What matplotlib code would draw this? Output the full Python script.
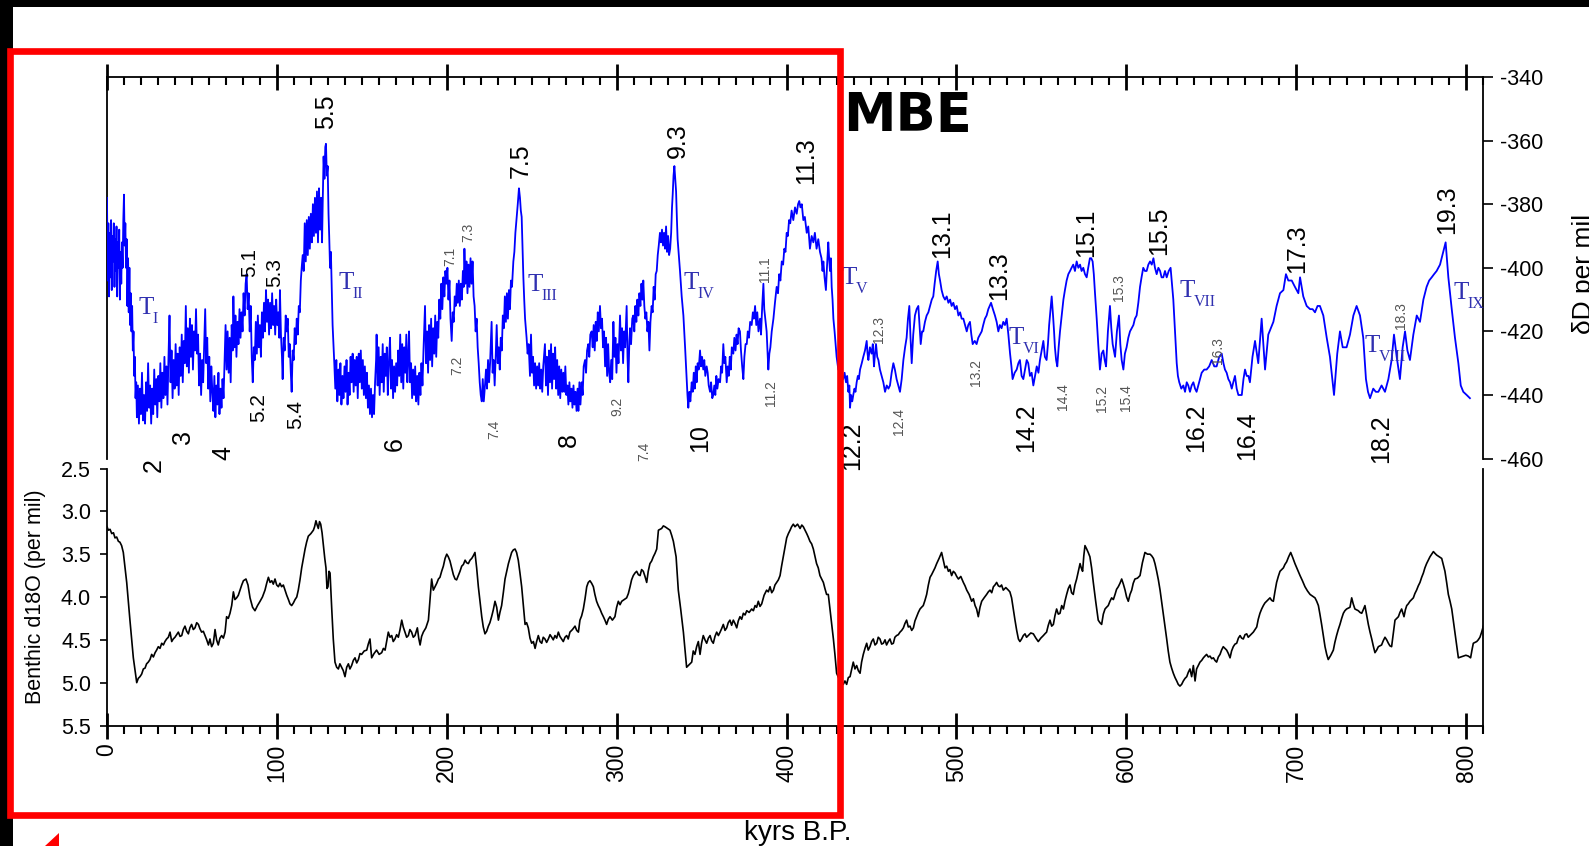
import matplotlib
matplotlib.use("Agg")
import matplotlib.pyplot as plt
from matplotlib.patches import Rectangle, Polygon
from matplotlib.ticker import MultipleLocator, FixedLocator, FormatStrFormatter

plt.rcParams['font.family'] = ['Liberation Sans', 'DejaVu Sans']
plt.rcParams['axes.unicode_minus'] = False

# ---------------------------------------------------------------
# EPICA Dome C deuterium (age in kyr B.P., dD in per mil)
# ---------------------------------------------------------------
dd_mis1_5 = [
    (0.0, -378), (0.4, -404), (0.8, -386), (1.2, -409), (1.6, -389), (2.0, -403), (2.4, -385), (2.8, -407),
    (3.2, -390), (3.6, -398), (4.0, -386), (4.4, -406), (4.8, -391), (5.2, -401), (5.6, -387), (6.0, -409),
    (6.4, -392), (6.8, -400), (7.2, -388), (7.6, -410), (8.0, -395), (8.4, -405), (8.8, -392), (9.2, -400),
    (9.6, -385), (10.0, -377), (10.4, -393), (10.8, -386), (11.2, -400), (11.6, -391), (12.0, -412), (12.4, -397),
    (12.8, -414), (13.2, -400), (13.6, -418), (14.0, -408), (14.4, -420), (14.8, -412), (15.2, -426), (15.6, -420),
    (16.0, -434), (16.4, -428), (16.8, -441), (17.2, -436), (17.6, -447), (18.2, -437), (18.8, -449), (19.4, -438),
    (20.0, -446), (20.6, -433), (21.2, -448), (21.8, -440), (22.4, -449), (23.0, -436), (23.6, -445), (24.2, -430),
    (24.8, -444), (25.4, -437), (26.0, -449), (26.6, -438), (27.2, -446), (27.8, -432), (28.4, -443), (29.0, -435),
    (29.6, -447), (30.2, -434), (30.8, -442), (31.4, -430), (32.0, -444), (32.6, -433), (33.2, -441), (33.8, -428),
    (34.4, -440), (35.0, -431), (35.6, -443), (36.2, -428), (36.8, -415), (37.4, -436), (38.0, -426), (38.6, -441),
    (39.2, -429), (39.8, -438), (40.4, -424), (41.0, -437), (41.6, -427), (42.2, -440), (42.8, -425), (43.4, -434),
    (44.0, -421), (44.6, -436), (45.2, -423), (45.8, -430), (46.4, -412), (47.0, -431), (47.6, -419), (48.2, -433),
    (48.8, -416), (49.4, -428), (50.0, -418), (50.6, -432), (51.2, -420), (51.8, -426), (52.4, -413), (53.0, -427),
    (53.6, -421), (54.2, -437), (54.8, -427), (55.4, -440), (56.0, -429), (56.6, -436), (57.2, -424), (57.8, -413),
    (58.4, -430), (59.0, -422), (59.6, -438), (60.2, -428), (60.8, -442), (61.4, -431), (62.0, -439), (62.6, -445),
    (63.2, -434), (63.8, -447), (64.4, -437), (65.0, -443), (65.6, -433), (66.2, -446), (66.8, -438), (67.4, -444),
    (68.0, -435), (68.6, -441), (69.2, -430), (69.8, -418), (70.4, -432), (71.0, -420), (71.6, -433), (72.2, -422),
    (72.8, -436), (73.4, -418), (74.0, -426), (74.4, -409), (75.0, -425), (75.6, -415), (76.2, -428), (76.8, -417),
    (77.4, -424), (78.0, -413), (78.6, -422), (79.2, -414), (79.8, -420), (80.4, -408), (81.0, -415), (81.6, -405),
    (82.2, -402), (82.8, -413), (83.4, -408), (84.0, -420), (84.6, -412), (85.2, -428), (85.8, -436), (86.4, -425),
    (87.0, -429), (87.6, -417), (88.2, -427), (88.8, -415), (89.4, -425), (90.0, -418), (90.6, -428), (91.2, -414),
    (91.8, -422), (92.4, -411), (93.0, -420), (93.6, -407), (94.2, -417), (94.8, -410), (95.4, -421), (96.0, -411),
    (96.6, -419), (97.2, -408), (97.8, -418), (98.4, -412), (99.0, -421), (99.6, -410), (100.2, -418), (100.8, -414),
    (101.4, -422), (101.8, -407), (102.4, -421), (103.0, -428), (103.4, -435), (104.0, -422), (104.6, -426), (105.2, -415),
    (105.8, -420), (106.4, -416), (107.0, -428), (107.6, -424), (108.2, -433), (108.7, -439), (109.3, -426), (109.9, -429),
    (110.5, -419), (111.1, -424), (111.7, -416), (112.3, -421), (112.9, -412), (113.5, -414), (114.1, -404), (114.6, -400),
    (115.2, -396), (115.8, -401), (116.4, -386), (117.0, -398), (117.6, -385), (118.2, -396), (118.8, -384), (119.4, -394),
    (120.0, -383), (120.6, -392), (121.2, -380), (121.8, -390), (122.4, -378), (123.0, -389), (123.6, -376), (124.2, -392),
    (124.8, -375), (125.4, -388), (126.0, -378), (126.6, -392), (127.0, -379), (127.5, -365), (128.0, -372), (128.5, -362),
    (128.9, -361), (129.4, -371), (129.9, -368), (130.4, -383), (130.8, -390), (131.3, -400), (131.8, -395), (132.3, -407),
    (132.8, -418), (133.3, -424),
]

dd_mis6_7 = [
    (133.8, -430), (134.4, -438), (135.0, -429), (135.6, -442), (136.2, -432), (136.8, -440), (137.4, -430), (138.0, -443),
    (138.6, -434), (139.2, -441), (139.8, -431), (140.4, -439), (141.0, -429), (141.6, -443), (142.2, -433), (142.8, -440),
    (143.4, -428), (144.0, -436), (144.6, -427), (145.2, -439), (145.8, -429), (146.4, -437), (147.0, -428), (147.6, -441),
    (148.2, -427), (148.8, -436), (149.4, -426), (150.0, -438), (150.6, -429), (151.2, -440), (151.8, -431), (152.4, -441),
    (153.0, -433), (153.6, -444), (154.2, -437), (154.8, -446), (155.4, -438), (156.0, -447), (156.6, -440), (157.2, -446),
    (157.8, -436), (158.4, -429), (158.7, -421), (159.3, -437), (159.9, -425), (160.5, -440), (161.1, -428), (161.7, -436),
    (162.3, -424), (162.9, -439), (163.5, -427), (164.1, -434), (164.7, -425), (165.3, -440), (165.9, -430), (166.6, -422),
    (167.2, -438), (167.8, -429), (168.4, -441), (169.0, -431), (169.6, -439), (170.2, -430), (170.8, -437), (171.4, -426),
    (172.0, -434), (172.6, -421), (173.2, -436), (173.8, -424), (174.4, -438), (175.0, -425), (175.6, -433), (176.2, -421),
    (176.8, -436), (177.4, -427), (177.8, -420), (178.4, -436), (179.0, -430), (179.6, -441), (180.2, -432), (180.8, -440),
    (181.4, -431), (182.0, -442), (182.6, -434), (183.3, -443), (183.9, -433), (184.5, -440), (185.1, -430), (185.7, -437),
    (186.3, -426), (187.2, -412), (187.8, -430), (188.4, -420), (189.0, -433), (189.6, -418), (190.2, -429), (190.8, -416),
    (191.4, -431), (192.0, -419), (192.6, -427), (193.2, -415), (193.8, -428), (194.4, -417), (195.0, -422), (195.6, -410),
    (196.2, -416), (196.8, -405), (197.4, -413), (198.0, -403), (198.6, -409), (199.2, -401), (199.8, -405), (200.4, -400),
    (201.0, -410), (201.6, -404), (202.2, -416), (202.9, -423), (203.5, -414), (204.1, -417), (204.7, -409), (205.3, -412),
    (205.9, -405), (206.5, -411), (207.1, -404), (207.7, -412), (208.3, -405), (208.9, -410), (209.5, -401), (210.0, -406),
    (210.4, -394), (211.0, -405), (211.6, -398), (212.2, -408), (212.8, -399), (213.4, -406), (214.0, -397), (214.6, -405),
    (215.2, -398), (215.8, -409), (216.4, -412), (217.0, -420), (217.6, -416), (218.2, -425), (218.8, -430), (219.4, -436),
    (220.0, -440), (220.6, -442), (221.2, -435), (221.8, -442), (222.5, -437), (223.1, -432), (223.7, -438), (224.3, -429),
    (224.9, -436), (225.5, -430), (226.0, -423), (226.4, -417), (227.0, -433), (227.6, -429), (228.2, -437), (228.8, -428),
    (229.4, -418), (230.0, -430), (230.6, -425), (231.2, -432), (231.8, -422), (232.4, -426), (233.0, -415), (233.6, -419),
    (234.2, -409), (234.8, -417), (235.4, -408), (236.0, -416), (236.6, -407), (237.2, -413), (237.8, -404), (238.4, -406),
    (239.2, -398), (239.8, -395), (240.4, -389), (241.2, -384), (241.8, -380), (242.5, -375), (243.1, -378), (243.6, -382),
    (244.1, -384), (244.6, -394), (245.1, -403), (245.6, -410), (246.1, -416), (247.0, -422), (247.6, -427), (248.2, -424),
    (249.0, -434), (249.6, -421), (250.2, -433), (250.8, -428), (251.4, -437), (252.0, -430), (252.6, -438), (253.2, -431),
    (253.8, -437), (254.4, -430), (255.0, -438), (255.6, -432), (256.2, -439), (256.8, -431), (257.8, -424), (258.4, -437),
    (259.0, -428), (259.6, -440), (260.2, -426), (260.8, -436), (261.4, -424), (262.0, -438), (262.6, -427), (263.2, -435),
    (263.8, -425), (264.4, -438), (265.0, -429), (265.6, -440), (266.2, -431), (266.8, -441), (267.4, -432), (268.0, -439),
]

dd_mis8_11 = [
    (268.6, -433), (269.2, -439), (269.8, -431), (270.4, -440), (271.0, -437), (271.6, -443), (272.2, -436), (272.8, -442),
    (273.4, -438), (274.0, -444), (274.6, -437), (275.2, -443), (275.8, -439), (276.4, -445), (277.0, -438), (277.5, -445),
    (278.1, -436), (278.7, -443), (279.4, -436), (280.0, -440), (280.6, -431), (281.4, -429), (282.0, -433), (282.6, -426),
    (283.3, -424), (283.9, -428), (284.5, -421), (285.3, -420), (285.9, -425), (286.5, -418), (287.1, -426), (287.7, -417),
    (288.3, -423), (288.9, -414), (289.5, -420), (290.2, -412), (290.8, -419), (291.4, -416), (292.0, -425), (292.6, -420),
    (293.2, -431), (293.8, -422), (294.4, -434), (295.0, -424), (295.6, -433), (296.2, -436), (296.8, -429), (297.4, -435),
    (298.1, -417), (298.7, -428), (299.3, -422), (299.9, -433), (300.5, -424), (301.1, -430), (302.0, -415), (302.6, -426),
    (303.2, -419), (303.8, -430), (304.4, -420), (305.0, -425), (305.9, -412), (306.4, -428), (306.9, -436), (307.5, -423),
    (307.9, -419), (308.5, -424), (309.2, -416), (309.8, -415), (310.4, -420), (311.0, -412), (311.6, -417), (312.2, -410),
    (312.8, -415), (313.4, -408), (314.0, -412), (314.6, -405), (315.2, -410), (315.7, -404), (316.3, -412), (316.9, -416),
    (317.5, -414), (318.1, -420), (318.7, -417), (319.3, -426), (319.9, -417), (320.6, -412), (321.2, -414), (321.8, -406),
    (322.4, -410), (323.0, -402), (323.6, -401), (324.2, -396), (324.8, -393), (325.5, -389), (326.1, -392), (326.7, -388),
    (327.3, -393), (327.9, -389), (328.5, -394), (329.1, -387), (329.7, -395), (330.3, -390), (330.9, -396), (331.5, -394),
    (332.1, -389), (332.6, -381), (333.0, -377), (333.5, -371), (334.0, -368), (334.5, -372), (335.0, -376), (335.5, -385),
    (335.9, -391), (336.6, -396), (337.3, -401), (338.3, -409), (339.3, -415), (340.3, -425), (341.2, -435), (341.7, -440),
    (342.2, -444), (342.8, -439), (343.4, -442), (344.2, -436), (344.8, -439), (345.4, -433), (346.0, -438), (346.6, -431),
    (347.1, -436), (347.7, -430), (348.3, -432), (349.1, -426), (349.7, -431), (350.3, -428), (351.0, -432), (351.6, -429),
    (352.2, -434), (353.0, -431), (353.6, -433), (354.2, -437), (355.0, -439), (355.6, -436), (356.3, -441), (356.9, -440),
    (357.5, -437), (358.1, -440), (358.7, -434), (359.3, -438), (360.0, -435), (360.9, -436), (361.5, -431), (362.1, -433),
    (362.8, -424), (363.4, -430), (364.0, -428), (364.8, -436), (365.4, -431), (366.0, -434), (366.6, -428), (367.2, -432),
    (367.8, -425), (368.7, -427), (369.3, -422), (370.0, -426), (370.6, -421), (371.2, -424), (371.8, -419), (372.6, -420),
    (373.2, -426), (373.9, -431), (374.6, -435), (375.2, -428), (375.9, -424), (376.6, -424), (377.2, -420), (377.9, -422),
    (378.6, -417), (379.5, -418), (380.2, -414), (380.8, -416), (381.5, -412), (382.2, -418), (382.8, -414), (383.5, -420),
    (384.4, -416), (385.0, -421), (385.7, -412), (386.4, -405), (386.9, -413), (387.5, -416), (388.3, -420), (388.8, -426),
    (389.3, -432), (389.9, -427), (390.5, -425), (391.3, -420), (392.3, -416), (393.2, -411), (394.2, -406), (395.0, -408),
    (395.7, -402), (396.4, -404), (397.2, -398), (398.0, -399), (398.7, -394), (399.4, -395), (400.1, -389), (400.8, -390),
    (401.5, -385), (402.2, -386), (403.0, -382), (404.0, -385), (405.0, -381), (406.0, -383), (406.8, -380), (407.5, -379),
    (408.2, -381), (409.0, -380), (409.9, -385), (410.8, -384), (411.9, -389), (412.8, -387), (413.8, -394), (414.8, -390),
    (415.8, -392), (416.7, -389), (417.7, -394), (418.7, -391), (419.7, -395), (420.6, -397), (421.2, -401), (421.7, -398),
    (422.4, -403), (423.2, -407), (423.8, -400), (424.6, -392), (425.1, -397), (425.6, -401), (426.1, -397), (426.6, -406),
    (427.1, -410), (427.6, -416), (428.3, -420), (428.9, -424), (429.5, -428),
]

dd_mis12_15 = [
    (430.5, -432), (431.5, -431), (432.4, -434), (433.4, -435), (434.2, -433), (435.0, -436), (435.7, -434), (436.4, -439),
    (437.0, -437), (437.4, -444), (438.0, -440), (438.7, -442), (439.3, -440), (440.0, -438), (440.6, -439), (441.3, -436),
    (442.0, -434), (442.6, -435), (443.3, -432), (444.3, -430), (445.2, -428), (446.2, -426), (447.2, -423), (447.7, -427),
    (448.2, -429), (449.1, -425), (450.1, -427), (450.8, -424), (451.5, -431), (452.1, -427), (452.7, -424), (453.4, -428),
    (454.1, -429), (455.0, -432), (456.0, -434), (457.0, -436), (458.0, -439), (459.0, -437), (460.0, -438), (460.9, -437),
    (461.9, -433), (462.9, -430), (463.8, -432), (464.8, -435), (465.8, -437), (466.8, -439), (467.8, -435), (468.8, -429),
    (469.8, -425), (470.7, -422), (471.5, -416), (472.3, -412), (473.0, -422), (473.7, -430), (474.6, -421), (475.6, -415),
    (476.6, -413), (477.6, -412), (478.3, -418), (479.0, -424), (479.8, -420), (480.5, -420), (481.5, -417), (482.5, -415),
    (483.5, -414), (484.5, -412), (485.5, -410), (486.4, -409), (487.2, -405), (488.1, -401), (489.0, -398), (489.7, -402),
    (490.4, -404), (491.3, -407), (492.3, -409), (493.3, -410), (494.3, -409), (495.3, -411), (496.3, -410), (497.2, -412),
    (498.2, -411), (499.2, -413), (500.2, -412), (501.2, -415), (502.2, -414), (503.1, -416), (504.1, -416), (505.1, -418),
    (506.1, -420), (507.0, -418), (508.0, -417), (508.8, -421), (509.6, -424), (510.8, -423), (511.9, -424), (512.9, -422),
    (513.9, -421), (514.9, -420), (515.8, -418), (516.8, -416), (517.8, -415), (518.8, -413), (519.6, -412), (520.4, -411),
    (521.5, -413), (522.7, -415), (523.7, -417), (524.7, -420), (525.6, -418), (526.6, -419), (527.6, -417), (528.6, -418),
    (529.6, -416), (530.6, -421), (531.6, -427), (532.4, -431), (533.1, -435), (534.3, -433), (535.5, -432), (536.5, -430),
    (537.4, -429), (538.4, -434), (539.4, -435), (540.4, -432), (541.4, -429), (542.3, -430), (543.3, -434), (544.3, -433),
    (545.3, -437), (546.3, -434), (547.3, -431), (548.3, -433), (549.2, -429), (550.2, -426), (551.2, -423), (552.1, -428),
    (553.1, -429), (553.9, -424), (554.6, -418), (555.4, -413), (556.1, -409), (556.9, -415), (557.5, -420), (558.0, -425),
    (558.7, -429), (559.4, -431), (560.2, -425), (561.0, -420), (562.0, -415), (563.0, -410), (563.9, -407), (564.9, -404),
    (565.9, -402), (566.9, -401), (567.8, -400), (568.8, -399), (569.8, -401), (570.8, -398), (571.8, -400), (572.8, -399),
    (573.7, -401), (574.7, -400), (575.7, -402), (576.7, -403), (577.6, -400), (578.6, -397), (579.4, -397), (580.2, -398),
    (580.9, -402), (581.6, -408), (582.6, -416), (583.5, -424), (584.5, -432), (585.5, -427), (586.5, -426), (587.3, -429),
    (588.1, -431), (589.2, -420), (590.4, -412), (591.2, -419), (592.0, -424), (593.4, -428), (594.5, -420), (595.7, -415),
    (596.5, -424), (597.3, -429), (598.3, -432), (599.2, -427), (600.2, -425), (601.2, -422), (602.2, -420), (603.2, -419),
    (604.2, -418), (605.1, -416), (606.1, -415), (607.1, -411), (608.1, -406), (609.0, -403), (610.0, -400), (611.0, -401),
    (612.0, -401), (613.0, -399), (614.0, -398), (615.0, -399), (616.0, -397), (616.9, -400), (617.9, -402), (618.9, -400),
    (619.9, -401), (620.8, -403), (621.8, -403), (622.8, -401), (623.8, -403), (625.0, -401), (626.1, -400),
]

dd_mis16_19 = [
    (626.9, -405), (627.7, -410), (628.7, -420), (629.7, -430), (630.4, -434), (631.2, -436), (632.4, -438), (633.6, -437),
    (634.6, -439), (635.6, -436), (636.5, -437), (637.5, -439), (638.5, -437), (639.5, -436), (640.5, -438), (641.4, -439),
    (642.9, -436), (644.4, -433), (645.9, -432), (647.3, -432), (648.8, -431), (650.3, -429), (651.8, -431), (653.2, -431),
    (654.7, -428), (656.2, -427), (657.2, -430), (658.1, -432), (659.1, -433), (660.1, -435), (661.1, -436), (662.1, -438),
    (663.0, -436), (664.0, -434), (665.0, -438), (666.0, -440), (667.0, -440), (668.0, -440), (669.0, -435), (669.9, -432),
    (670.9, -434), (671.9, -434), (672.8, -436), (674.3, -428), (675.8, -423), (677.7, -430), (679.7, -416), (681.7, -432),
    (683.6, -421), (685.1, -419), (686.6, -417), (688.5, -412), (690.5, -408), (692.5, -407), (694.0, -402), (695.4, -404),
    (697.4, -404), (699.3, -406), (701.3, -408), (702.3, -403), (704.2, -409), (706.2, -412), (708.2, -413), (709.7, -413),
    (711.1, -414), (712.6, -412), (714.0, -412), (716.0, -415), (718.0, -422), (719.9, -428), (721.1, -434), (722.3, -440),
    (723.2, -434), (724.2, -427), (725.8, -420), (727.4, -425), (729.7, -425), (731.7, -421), (733.7, -415), (735.6, -412),
    (737.6, -415), (739.5, -422), (741.1, -435), (742.3, -439), (743.5, -441), (745.4, -438), (746.9, -439), (748.4, -439),
    (750.3, -437), (752.3, -439), (754.3, -435), (756.2, -429), (757.6, -421), (759.2, -428), (761.1, -435), (762.7, -425),
    (764.1, -420), (765.5, -426), (767.0, -429), (769.0, -421), (771.0, -415), (772.9, -417), (774.9, -410), (776.8, -406),
    (778.3, -404), (779.8, -403), (781.2, -402), (782.7, -401), (784.7, -399), (786.6, -395), (788.0, -392), (789.6, -403),
    (791.6, -413), (793.5, -422), (795.5, -430), (796.9, -437), (798.4, -439), (800.4, -440), (802.3, -441),
]

# ---------------------------------------------------------------
# Benthic d18O stack (age in kyr B.P., d18O in per mil)
# ---------------------------------------------------------------
d18o_0_270 = [
    (0.0, 3.18), (0.8, 3.22), (1.8, 3.21), (2.8, 3.26), (3.8, 3.25), (4.7, 3.31), (5.7, 3.30), (6.7, 3.35),
    (7.6, 3.36), (8.6, 3.40), (9.6, 3.48), (11.6, 3.83), (13.5, 4.27), (15.5, 4.71), (17.5, 5.00), (18.4, 4.95),
    (19.4, 4.93), (20.4, 4.90), (21.4, 4.84), (22.4, 4.83), (23.3, 4.78), (24.3, 4.76), (25.3, 4.73), (26.3, 4.67),
    (27.3, 4.70), (28.3, 4.65), (29.2, 4.62), (30.2, 4.58), (31.2, 4.60), (32.2, 4.54), (33.2, 4.56), (34.1, 4.52),
    (35.1, 4.49), (36.1, 4.47), (37.1, 4.41), (38.1, 4.52), (39.0, 4.49), (40.0, 4.47), (41.0, 4.44), (42.0, 4.41),
    (43.0, 4.46), (44.0, 4.45), (44.9, 4.38), (45.9, 4.34), (46.9, 4.40), (47.9, 4.43), (48.8, 4.36), (49.8, 4.32),
    (50.8, 4.38), (51.8, 4.36), (52.8, 4.30), (53.8, 4.32), (54.7, 4.37), (55.7, 4.41), (56.7, 4.40), (57.7, 4.45),
    (58.7, 4.50), (59.7, 4.56), (60.6, 4.49), (61.6, 4.58), (62.6, 4.54), (63.6, 4.38), (64.5, 4.50), (65.5, 4.56),
    (66.5, 4.48), (67.5, 4.45), (68.5, 4.48), (69.5, 4.41), (70.4, 4.23), (71.4, 4.25), (72.4, 4.19), (73.4, 4.10),
    (74.4, 3.94), (75.3, 4.03), (76.3, 4.01), (77.3, 3.98), (78.3, 3.92), (79.3, 3.86), (80.3, 3.81), (81.8, 3.79),
    (83.0, 3.86), (84.2, 4.01), (85.7, 4.12), (87.1, 4.16), (88.6, 4.10), (90.1, 4.05), (91.5, 4.00), (93.0, 3.92),
    (94.0, 3.84), (95.0, 3.77), (96.0, 3.83), (97.0, 3.81), (97.9, 3.85), (98.9, 3.79), (99.9, 3.86), (100.9, 3.88),
    (101.8, 3.84), (102.8, 3.88), (103.8, 3.86), (104.8, 3.92), (105.8, 3.98), (106.8, 4.03), (107.7, 4.08), (108.7, 4.10),
    (109.7, 4.07), (110.7, 4.03), (111.7, 4.00), (112.6, 3.92), (113.6, 3.80), (114.6, 3.66), (115.6, 3.55), (116.6, 3.44),
    (117.5, 3.36), (118.5, 3.29), (120.0, 3.26), (121.5, 3.22), (122.2, 3.18), (123.0, 3.11), (123.7, 3.16), (124.4, 3.20),
    (125.1, 3.12), (125.8, 3.15), (126.6, 3.25), (127.4, 3.40), (128.2, 3.55), (128.9, 3.66), (129.5, 3.90), (130.1, 3.88),
    (130.7, 3.70), (131.3, 3.72), (132.3, 4.14), (133.2, 4.49), (134.2, 4.76), (135.2, 4.82), (136.2, 4.84), (137.1, 4.78),
    (138.1, 4.82), (139.1, 4.86), (140.1, 4.93), (141.1, 4.82), (142.1, 4.78), (143.0, 4.84), (144.0, 4.80), (145.0, 4.74),
    (146.0, 4.71), (147.0, 4.77), (148.0, 4.73), (148.9, 4.66), (149.9, 4.67), (151.4, 4.63), (152.9, 4.62), (153.8, 4.55),
    (154.8, 4.49), (155.8, 4.71), (157.2, 4.66), (158.7, 4.62), (160.2, 4.67), (161.7, 4.65), (162.7, 4.60), (163.7, 4.62),
    (164.6, 4.52), (165.6, 4.41), (166.6, 4.47), (167.6, 4.45), (168.5, 4.52), (169.5, 4.49), (170.5, 4.44), (171.5, 4.47),
    (172.5, 4.38), (173.5, 4.27), (174.4, 4.35), (175.4, 4.41), (176.4, 4.47), (177.4, 4.45), (178.3, 4.38), (179.3, 4.41),
    (180.3, 4.47), (181.3, 4.45), (182.7, 4.36), (183.5, 4.48), (184.3, 4.56), (185.2, 4.46), (186.2, 4.41), (187.7, 4.36),
    (189.2, 4.27), (190.1, 4.05), (191.1, 3.79), (192.1, 3.92), (193.1, 3.88), (194.1, 3.84), (195.1, 3.79), (196.0, 3.77),
    (197.0, 3.70), (198.0, 3.64), (199.0, 3.55), (200.0, 3.50), (200.9, 3.53), (201.9, 3.58), (202.9, 3.66), (203.9, 3.74),
    (204.9, 3.79), (205.8, 3.80), (206.8, 3.75), (207.8, 3.70), (208.8, 3.64), (209.8, 3.62), (210.8, 3.57), (211.7, 3.60),
    (212.7, 3.61), (213.7, 3.57), (214.7, 3.55), (215.6, 3.52), (216.6, 3.48), (217.6, 3.66), (218.6, 3.88), (219.6, 4.05),
    (220.6, 4.23), (221.5, 4.35), (222.5, 4.43), (223.5, 4.40), (224.5, 4.34), (225.4, 4.30), (226.4, 4.23), (227.4, 4.15),
    (228.4, 4.05), (229.4, 4.12), (230.4, 4.27), (231.3, 4.18), (232.3, 4.10), (233.3, 3.95), (234.3, 3.79), (235.3, 3.70),
    (236.3, 3.61), (237.2, 3.55), (238.2, 3.48), (239.2, 3.45), (240.2, 3.44), (241.1, 3.48), (242.1, 3.57), (243.1, 3.72),
    (244.1, 3.88), (245.1, 4.10), (246.1, 4.32), (247.0, 4.30), (248.0, 4.36), (249.0, 4.48), (250.0, 4.54), (251.0, 4.52),
    (252.0, 4.60), (252.9, 4.52), (253.9, 4.45), (254.9, 4.52), (255.9, 4.54), (256.8, 4.47), (257.8, 4.49), (258.8, 4.53),
    (259.8, 4.49), (260.8, 4.44), (261.8, 4.47), (262.7, 4.50), (263.7, 4.45), (264.7, 4.48), (265.7, 4.41), (266.6, 4.46),
    (267.6, 4.49),
]

d18o_270_540 = [
    (268.6, 4.52), (269.6, 4.47), (270.6, 4.45), (271.5, 4.49), (272.5, 4.41), (274.0, 4.38), (275.5, 4.34), (276.5, 4.39),
    (277.5, 4.41), (278.4, 4.27), (279.4, 4.22), (280.4, 4.14), (281.4, 4.02), (282.4, 3.88), (283.3, 3.83), (284.3, 3.81),
    (285.3, 3.84), (286.3, 3.88), (287.2, 3.97), (288.2, 4.05), (289.2, 4.10), (290.2, 4.14), (291.2, 4.19), (292.2, 4.23),
    (293.1, 4.27), (294.1, 4.32), (295.1, 4.26), (296.1, 4.23), (297.5, 4.27), (299.0, 4.23), (300.0, 4.12), (301.0, 4.05),
    (302.0, 4.09), (303.0, 4.05), (304.5, 4.03), (305.9, 4.01), (306.9, 3.96), (307.9, 3.88), (308.8, 3.80), (309.8, 3.75),
    (310.8, 3.72), (311.8, 3.70), (312.8, 3.74), (313.8, 3.75), (314.7, 3.68), (315.7, 3.70), (316.7, 3.76), (317.7, 3.83),
    (318.6, 3.70), (319.6, 3.61), (320.6, 3.58), (321.6, 3.53), (322.6, 3.49), (323.6, 3.44), (324.6, 3.22), (325.5, 3.21),
    (326.5, 3.20), (327.5, 3.17), (328.5, 3.18), (329.9, 3.20), (331.4, 3.22), (332.4, 3.28), (333.4, 3.35), (334.2, 3.44),
    (335.0, 3.53), (336.3, 3.92), (337.7, 4.14), (339.3, 4.41), (340.2, 4.60), (341.2, 4.82), (342.7, 4.79), (344.2, 4.76),
    (345.1, 4.63), (346.1, 4.67), (347.1, 4.58), (348.1, 4.52), (349.1, 4.67), (350.0, 4.54), (351.0, 4.45), (352.0, 4.50),
    (353.0, 4.54), (354.0, 4.48), (355.0, 4.45), (355.9, 4.51), (356.9, 4.54), (357.9, 4.46), (358.9, 4.41), (359.9, 4.45),
    (360.9, 4.41), (361.8, 4.37), (362.8, 4.32), (363.8, 4.39), (364.8, 4.36), (365.7, 4.30), (366.7, 4.27), (367.7, 4.33),
    (368.7, 4.27), (369.7, 4.31), (370.7, 4.36), (371.6, 4.28), (372.6, 4.23), (373.6, 4.26), (374.6, 4.19), (375.6, 4.21),
    (376.6, 4.16), (378.0, 4.18), (379.5, 4.14), (380.5, 4.16), (381.5, 4.10), (382.4, 4.12), (383.4, 4.05), (384.4, 4.11),
    (385.4, 4.08), (386.8, 3.98), (388.3, 3.92), (389.3, 3.94), (390.3, 3.88), (391.3, 3.95), (392.3, 3.92), (393.2, 3.86),
    (394.2, 3.83), (395.2, 3.80), (396.2, 3.75), (397.1, 3.64), (398.1, 3.53), (399.1, 3.42), (400.1, 3.31), (401.1, 3.26),
    (402.1, 3.22), (403.0, 3.18), (404.0, 3.15), (405.0, 3.18), (406.5, 3.15), (408.0, 3.20), (409.0, 3.16), (409.9, 3.18),
    (410.9, 3.22), (411.9, 3.26), (412.8, 3.30), (413.8, 3.35), (414.8, 3.38), (415.8, 3.44), (416.7, 3.52), (417.7, 3.61),
    (418.7, 3.66), (419.7, 3.75), (420.7, 3.79), (421.7, 3.83), (422.6, 3.90), (423.6, 3.97), (424.6, 3.97), (425.6, 4.14),
    (426.6, 4.32), (427.6, 4.49), (428.5, 4.67), (429.5, 4.89), (431.5, 4.98), (433.4, 5.02), (434.4, 4.98), (435.4, 5.02),
    (436.4, 4.94), (437.4, 4.93), (438.3, 4.85), (439.3, 4.76), (440.3, 4.84), (441.3, 4.80), (442.3, 4.86), (443.3, 4.89),
    (444.2, 4.76), (445.2, 4.67), (446.2, 4.60), (447.2, 4.54), (448.1, 4.62), (449.1, 4.58), (450.1, 4.52), (451.1, 4.49),
    (452.1, 4.56), (453.1, 4.54), (454.0, 4.47), (455.0, 4.49), (456.0, 4.55), (457.0, 4.54), (458.0, 4.50), (458.9, 4.56),
    (459.9, 4.52), (460.9, 4.49), (461.9, 4.55), (462.9, 4.54), (463.8, 4.47), (464.8, 4.45), (465.8, 4.44), (466.8, 4.41),
    (467.8, 4.39), (468.8, 4.36), (469.7, 4.31), (470.7, 4.27), (471.7, 4.35), (472.7, 4.34), (473.7, 4.39), (474.7, 4.36),
    (475.6, 4.28), (476.6, 4.23), (477.6, 4.18), (478.6, 4.14), (479.5, 4.12), (480.5, 4.10), (481.5, 4.04), (482.5, 3.97),
    (483.5, 3.86), (484.5, 3.77), (485.4, 3.74), (486.4, 3.70), (487.4, 3.66), (488.4, 3.61), (489.8, 3.55), (491.3, 3.48),
    (492.3, 3.57), (493.3, 3.66), (494.3, 3.64), (495.3, 3.70), (496.2, 3.68), (497.2, 3.75), (498.2, 3.70), (499.2, 3.72),
    (500.2, 3.76), (501.2, 3.79), (502.6, 3.76), (504.1, 3.83), (505.1, 3.87), (506.1, 3.92), (507.5, 3.97), (509.0, 4.05),
    (510.0, 4.02), (511.0, 4.10), (511.9, 4.14), (512.9, 4.23), (513.9, 4.12), (514.9, 4.05), (516.3, 4.01), (517.8, 3.97),
    (518.8, 3.94), (519.8, 3.92), (520.8, 3.95), (521.8, 3.88), (522.7, 3.86), (523.7, 3.83), (524.7, 3.87), (525.7, 3.88),
    (526.6, 3.86), (527.6, 3.92), (529.1, 3.89), (530.6, 3.92), (531.5, 3.94), (532.5, 4.01), (533.5, 4.14), (534.5, 4.27),
    (535.5, 4.39), (536.5, 4.49), (537.4, 4.52), (538.4, 4.49),
]

d18o_540_810 = [
    (539.4, 4.45), (540.4, 4.43), (541.3, 4.47), (542.3, 4.45), (543.8, 4.42), (545.3, 4.43), (546.8, 4.48), (548.2, 4.52),
    (549.7, 4.48), (551.2, 4.45), (552.1, 4.43), (553.1, 4.41), (554.1, 4.33), (555.1, 4.27), (556.1, 4.34), (557.1, 4.32),
    (558.0, 4.22), (559.0, 4.14), (560.0, 4.20), (561.0, 4.19), (562.0, 4.10), (563.0, 4.14), (563.9, 4.05), (564.9, 3.97),
    (565.9, 3.90), (566.9, 3.86), (567.8, 3.95), (568.8, 3.97), (569.8, 3.86), (570.8, 3.79), (571.8, 3.70), (572.8, 3.61),
    (573.5, 3.66), (574.3, 3.70), (575.0, 3.52), (575.7, 3.40), (576.7, 3.44), (577.6, 3.48), (578.6, 3.53), (579.6, 3.66),
    (580.6, 3.83), (582.0, 4.05), (583.5, 4.27), (584.5, 4.30), (585.5, 4.32), (586.5, 4.20), (587.5, 4.14), (588.4, 4.12),
    (589.4, 4.10), (590.4, 4.05), (591.4, 4.01), (592.4, 4.03), (593.4, 3.97), (594.3, 3.91), (595.3, 3.88), (596.3, 3.84),
    (597.3, 3.79), (598.3, 3.85), (599.3, 3.92), (600.2, 4.00), (601.2, 4.05), (602.2, 3.97), (603.2, 3.92), (604.1, 3.84),
    (605.1, 3.79), (606.6, 3.78), (608.1, 3.75), (609.5, 3.60), (611.0, 3.48), (612.5, 3.50), (614.0, 3.50), (615.0, 3.52),
    (616.0, 3.55), (616.9, 3.61), (617.9, 3.70), (618.9, 3.80), (619.9, 3.92), (620.8, 4.05), (621.8, 4.19), (622.8, 4.34),
    (623.8, 4.49), (624.7, 4.63), (625.7, 4.76), (626.7, 4.83), (627.7, 4.89), (628.7, 4.94), (629.7, 4.98), (630.6, 5.02),
    (631.6, 5.04), (632.6, 5.02), (633.6, 4.98), (634.6, 4.95), (635.6, 4.93), (636.5, 4.88), (637.5, 4.84), (638.5, 4.93),
    (639.5, 4.80), (640.5, 4.98), (641.4, 4.84), (642.4, 4.80), (643.4, 4.76), (644.4, 4.74), (645.4, 4.71), (646.3, 4.69),
    (647.3, 4.67), (648.3, 4.70), (649.3, 4.69), (650.3, 4.72), (651.3, 4.71), (652.2, 4.74), (653.2, 4.76), (654.2, 4.70),
    (655.2, 4.67), (656.1, 4.62), (657.1, 4.58), (658.1, 4.60), (659.1, 4.62), (660.1, 4.66), (661.1, 4.71), (662.0, 4.63),
    (663.0, 4.58), (664.0, 4.55), (665.0, 4.54), (666.0, 4.48), (667.0, 4.45), (667.9, 4.48), (668.9, 4.49), (669.9, 4.44),
    (670.9, 4.43), (671.8, 4.47), (672.8, 4.45), (673.8, 4.43), (674.8, 4.41), (675.8, 4.38), (676.8, 4.35), (677.7, 4.26),
    (678.7, 4.19), (679.7, 4.14), (680.7, 4.10), (681.6, 4.07), (682.6, 4.05), (683.6, 4.03), (684.6, 4.01), (685.6, 4.04),
    (686.6, 4.05), (687.5, 3.94), (688.5, 3.83), (689.5, 3.76), (690.5, 3.70), (691.5, 3.68), (692.5, 3.66), (693.4, 3.62),
    (694.4, 3.59), (695.6, 3.53), (696.8, 3.48), (698.0, 3.54), (699.3, 3.61), (700.8, 3.68), (702.3, 3.75), (703.7, 3.81),
    (705.2, 3.88), (706.7, 3.93), (708.2, 3.97), (709.6, 3.99), (711.1, 4.01), (712.1, 4.05), (713.1, 4.10), (714.0, 4.20),
    (715.0, 4.32), (716.0, 4.45), (717.0, 4.58), (718.0, 4.67), (718.9, 4.73), (720.4, 4.68), (721.9, 4.62), (722.8, 4.53),
    (723.8, 4.45), (724.8, 4.38), (725.8, 4.32), (726.8, 4.25), (727.8, 4.19), (728.7, 4.16), (729.7, 4.14), (730.7, 4.13),
    (731.7, 4.12), (732.7, 4.01), (733.6, 4.08), (734.6, 4.14), (735.6, 4.15), (736.6, 4.16), (737.6, 4.18), (738.6, 4.19),
    (739.5, 4.15), (740.5, 4.10), (741.5, 4.21), (742.5, 4.32), (743.5, 4.41), (744.5, 4.49), (745.4, 4.57), (746.4, 4.65),
    (747.4, 4.62), (748.4, 4.58), (749.3, 4.57), (750.3, 4.56), (751.3, 4.51), (752.3, 4.47), (753.3, 4.50), (754.3, 4.54),
    (755.2, 4.57), (756.2, 4.58), (757.2, 4.42), (758.2, 4.27), (759.2, 4.25), (760.2, 4.23), (761.1, 4.18), (762.1, 4.14),
    (763.5, 4.23), (764.3, 4.15), (765.1, 4.10), (766.0, 4.08), (767.0, 4.05), (768.0, 4.03), (769.0, 4.01), (769.9, 3.96),
    (770.9, 3.92), (771.9, 3.87), (772.9, 3.83), (773.9, 3.77), (774.9, 3.72), (775.8, 3.66), (776.8, 3.61), (777.8, 3.57),
    (778.8, 3.53), (779.8, 3.50), (780.8, 3.47), (781.7, 3.49), (782.7, 3.51), (784.2, 3.53), (785.7, 3.55), (786.6, 3.62),
    (787.6, 3.70), (788.6, 3.83), (789.6, 3.97), (790.6, 4.05), (791.6, 4.14), (792.5, 4.27), (793.5, 4.41), (794.5, 4.56),
    (795.5, 4.71), (797.0, 4.70), (798.4, 4.69), (799.9, 4.68), (801.4, 4.69), (802.7, 4.71), (803.5, 4.62), (804.3, 4.54),
    (805.3, 4.53), (806.3, 4.52), (807.2, 4.50), (808.2, 4.47), (809.2, 4.41), (810.2, 4.34),
]

# Axis ticks
age_ticks = [0, 100, 200, 300, 400, 500, 600, 700, 800]
dd_ticks = [-460, -440, -420, -400, -380, -360, -340]
d18o_ticks = [2.5, 3.0, 3.5, 4.0, 4.5, 5.0, 5.5]

# Marine isotope (sub)stage labels: text, age, dD
stage_major = [
    ("5.5", 128.8, -351), ("7.5", 243.6, -366.4), ("9.3", 335.8, -359.9), ("11.3", 411.4, -366.4),
    ("13.1", 491.8, -389.2), ("13.3", 525.0, -402.6), ("15.1", 576.2, -388.9), ("15.5", 619.3, -388.3),
    ("17.3", 700.8, -393.9), ("19.3", 789.0, -381.8),
    ("2", 27.4, -462.0), ("3", 44.9, -453.2), ("4", 68.4, -458.3), ("6", 169.5, -455.3), ("8", 272.0, -454.0),
    ("10", 348.9, -453.5), ("12.2", 438.8, -455.9), ("14.2", 541.0, -450.2), ("16.2", 641.0, -450.2),
    ("16.4", 671.0, -452.9), ("18.2", 749.8, -453.8),
]
stage_mis5 = [("5.1", 83.9, -398.2), ("5.3", 98.9, -401.6), ("5.2", 89.1, -444.0), ("5.4", 111.1, -446.0)]
stage_minor = [
    ("7.1", 201.9, -396.3), ("7.3", 212.7, -388.9), ("7.2", 206.3, -430.6), ("7.4", 227.8, -450.8),
    ("9.2", 300.5, -443.7), ("7.4", 316.1, -457.7), ("11.1", 387.3, -400.5), ("11.2", 390.9, -439.3),
    ("12.3", 454.4, -419.4), ("12.4", 466.2, -448.4), ("13.2", 511.4, -433.0), ("14.4", 562.8, -440.5),
    ("15.2", 585.7, -441.1), ("15.3", 595.7, -406.1), ("15.4", 599.8, -440.7), ("16.3", 654.0, -425.9),
    ("18.3", 761.6, -415.0),
]
# Glacial terminations: roman numeral, age, dD
terminations = [
    ("I", 18.4, -412.6), ("II", 136.2, -404.9), ("III", 247.5, -405.5), ("IV", 339.3, -404.9),
    ("V", 432.5, -403.2), ("VI", 530.4, -422.1), ("VII", 631.6, -407.3), ("VIII", 740.5, -424.5),
    ("IX", 792.7, -407.9),
]

# ---------------------------------------------------------------
W, H = 1589, 846
fig = plt.figure(figsize=(W / 100, H / 100), dpi=100)
fig.patch.set_facecolor("white")


def fx(px):
    return px / W


def fy(py):
    return 1 - py / H


X_LEFT, X_RIGHT = 107, 1483
ax_top = fig.add_axes([fx(X_LEFT), fy(458.6), fx(X_RIGHT) - fx(X_LEFT), fy(77) - fy(458.6)])
ax_bot = fig.add_axes([fx(X_LEFT), fy(725.5), fx(X_RIGHT) - fx(X_LEFT), fy(468.5) - fy(725.5)])
for ax in (ax_top, ax_bot):
    ax.set_facecolor("none")
    ax.set_xlim(0, 810)
    for sp in ax.spines.values():
        sp.set_linewidth(1.3)

dd_points = dd_mis1_5 + dd_mis6_7 + dd_mis8_11 + dd_mis12_15 + dd_mis16_19
d18o_points = d18o_0_270 + d18o_270_540 + d18o_540_810

ax_top.plot([p[0] for p in dd_points], [p[1] for p in dd_points], color="#0000ff", lw=1.3, zorder=3)
ax_bot.plot([p[0] for p in d18o_points], [p[1] for p in d18o_points], color="black", lw=1.2, zorder=3)

# Upper panel: dD on the right, age ticks along the top
ax_top.set_ylim(-460, -340)
ax_top.spines["bottom"].set_visible(False)
ax_top.xaxis.set_ticks_position("top")
ax_top.xaxis.set_major_locator(FixedLocator(age_ticks))
ax_top.xaxis.set_minor_locator(MultipleLocator(10))
ax_top.tick_params(axis="x", which="major", direction="inout", length=19, width=2.0,
                   labeltop=False, labelbottom=False)
ax_top.tick_params(axis="x", which="minor", direction="in", length=5.5, width=1.5)
ax_top.yaxis.tick_right()
ax_top.set_yticks(dd_ticks)
ax_top.tick_params(axis="y", which="both", direction="out", length=7, width=1.2, pad=5,
                   labelsize=15.5, left=False, labelleft=False)

# Lower panel: benthic d18O on the left (inverted), age axis on the bottom
ax_bot.set_ylim(5.5, 2.5)
ax_bot.spines["top"].set_visible(False)
ax_bot.xaxis.set_ticks_position("bottom")
ax_bot.xaxis.set_major_locator(FixedLocator(age_ticks))
ax_bot.xaxis.set_minor_locator(MultipleLocator(10))
ax_bot.tick_params(axis="x", which="major", direction="inout", length=19, width=2.0,
                   labelsize=16.5, labelrotation=90, pad=3.5)
ax_bot.tick_params(axis="x", which="minor", direction="out", length=6, width=1.5)
ax_bot.set_yticks(d18o_ticks)
ax_bot.yaxis.set_major_formatter(FormatStrFormatter("%.1f"))
ax_bot.tick_params(axis="y", direction="out", length=5, width=1.2, pad=6.5, labelsize=15.5,
                   right=False)

# Stage labels
for txt, x, y in stage_major:
    ax_top.text(x, y, txt, rotation=90, ha="center", va="center", fontsize=18, color="black",
                clip_on=False, zorder=4)
for txt, x, y in stage_mis5:
    ax_top.text(x, y, txt, rotation=90, ha="center", va="center", fontsize=15, color="black",
                clip_on=False, zorder=4)
for txt, x, y in stage_minor:
    ax_top.text(x, y, txt, rotation=90, ha="center", va="center", fontsize=10, color="#555555",
                clip_on=False, zorder=4)

t_color = "#3030b0"
for sub, x, y in terminations:
    ax_top.text(x, y, "T", ha="left", va="center", fontsize=18, color=t_color,
                family="Liberation Serif", clip_on=False, zorder=4)
    ax_top.annotate(sub, (x, y), xytext=(10.3, -7.8), textcoords="offset points",
                    ha="left", va="center", fontsize=11.5, color=t_color,
                    family="Liberation Serif", annotation_clip=False, zorder=4)

# Axis titles
fig.text(fx(35.5), fy(596.5), "Benthic d18O (per mil)", rotation=90, ha="center", va="center",
         fontsize=15.5)
fig.text(fx(1584), fy(274), "\u03b4D per mil", rotation=90, ha="center", va="center", fontsize=19)
fig.text(fx(797.5), fy(833), "kyrs B.P.", ha="center", va="center", fontsize=20)
fig.text(fx(843), fy(131), "MBE", ha="left", va="baseline", fontsize=38, fontweight="bold",
         family="DejaVu Sans")

# Frame decorations
fig.patches.append(Rectangle((0, fy(7)), 1, 7 / H, transform=fig.transFigure,
                             facecolor="black", edgecolor="none", zorder=0))
fig.patches.append(Rectangle((0, 0), 13 / W, 1, transform=fig.transFigure,
                             facecolor="black", edgecolor="none", zorder=0))
fig.patches.append(Rectangle((fx(10), fy(815)), fx(840) - fx(10), fy(51.5) - fy(815),
                             transform=fig.transFigure, facecolor="none", edgecolor="#ff0000",
                             linewidth=4.8, joinstyle="miter", zorder=10))
fig.patches.append(Polygon([(fx(59), fy(833)), (fx(45), fy(846)), (fx(59), fy(846))],
                           closed=True, transform=fig.transFigure, facecolor="#ff0000",
                           edgecolor="none", zorder=10))

fig.savefig("out.png", dpi=100, facecolor="white")
